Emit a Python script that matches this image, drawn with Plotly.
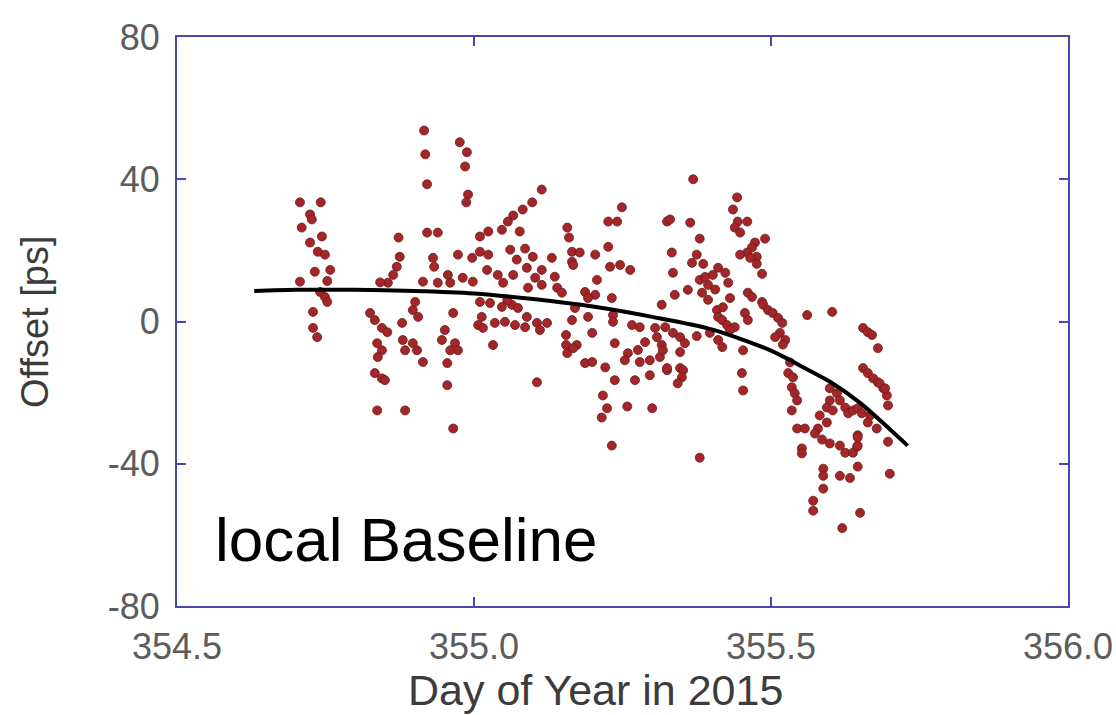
import plotly.graph_objects as go

# ---- data ----
day = [
    # cluster ~354.70-354.76
    354.707, 354.742, 354.724, 354.727, 354.710, 354.744, 354.724, 354.737, 354.749, 354.732,
    354.758, 354.753, 354.707, 354.741, 354.749, 354.753, 354.729, 354.729, 354.736,
    # cluster ~354.82-355.01
    354.825, 354.833, 354.845, 354.854, 354.837, 354.845, 354.838, 354.833, 354.845, 354.837,
    354.884, 354.879, 354.880, 354.884, 354.897, 354.904, 354.914, 354.873, 354.875, 354.870,
    354.864, 354.855, 354.901, 354.897, 354.906, 354.914, 354.939, 354.956, 354.960, 354.981,
    354.998, 354.916, 354.918, 354.921, 354.976, 354.988, 354.985, 354.990, 354.987, 354.921,
    354.939, 354.931, 354.933, 354.973, 354.997, 354.965, 354.951, 354.946, 354.968, 354.960,
    354.973, 354.955, 354.955, 354.965, 355.007, 354.850, 354.842,
    # 355.00-355.17
    355.114, 355.098, 355.082, 355.066, 355.057, 355.047, 355.077, 355.024, 355.010, 355.061,
    355.086, 355.010, 355.024, 355.072, 355.099, 355.131, 355.022, 355.089, 355.114, 355.040,
    355.066, 355.103, 355.136, 355.049, 355.114, 355.091, 355.140, 355.148, 355.010, 355.027,
    355.047, 355.064, 355.074, 355.013, 355.035, 355.052, 355.069, 355.089, 355.106, 355.123,
    355.032, 355.106, 355.157, 355.160, 355.165, 355.165, 355.165, 355.155, 355.155, 355.157,
    355.015, 355.086, 355.111, 355.056,
    # 355.17-355.33
    355.249, 355.226, 355.241, 355.226, 355.204, 355.178, 355.167, 355.229, 355.246, 355.263,
    355.207, 355.187, 355.204, 355.192, 355.232, 355.325, 355.316, 355.170, 355.192, 355.234,
    355.234, 355.266, 355.279, 355.305, 355.199, 355.173, 355.167, 355.237, 355.288, 355.308,
    355.316, 355.259, 355.254, 355.279, 355.296, 355.187, 355.199, 355.221, 355.313, 355.325,
    355.237, 355.271, 355.296, 355.217, 355.224, 355.215, 355.258, 355.300, 355.232, 355.276,
    # 355.32-355.52
    355.369, 355.330, 355.364, 355.443, 355.436, 355.444, 355.460, 355.439, 355.448, 355.490,
    355.380, 355.473, 355.468, 355.460, 355.333, 355.375, 355.448, 355.476, 355.465, 355.476,
    355.367, 355.386, 355.411, 355.423, 355.402, 355.335, 355.485, 355.428, 355.380, 355.394,
    355.360, 355.384, 355.338, 355.394, 355.431, 355.461, 355.468, 355.485, 355.487, 355.495,
    355.503, 355.512, 355.519, 355.409, 355.411, 355.418, 355.456, 355.461, 355.439, 355.426,
    355.431, 355.397, 355.375, 355.411, 355.418, 355.453, 355.322, 355.335, 355.347, 355.355,
    355.347, 355.318, 355.325, 355.347, 355.352, 355.350, 355.343, 355.451, 355.453, 355.380,
    355.389, 355.406, 355.419,
    # 355.50-355.65
    355.515, 355.524, 355.507, 355.561, 355.603, 355.529, 355.537, 355.535, 355.540, 355.544,
    355.535, 355.544, 355.557, 355.552, 355.552, 355.599, 355.611, 355.616, 355.599, 355.594,
    355.604, 355.625, 355.630, 355.638, 355.582, 355.594, 355.579, 355.574, 355.586, 355.599,
    355.616, 355.625, 355.638, 355.645, 355.646, 355.588, 355.588, 355.616, 355.633, 355.588,
    355.571, 355.571, 355.620, 355.650, 355.532, 355.520,
    # 355.65-355.70
    355.655, 355.663, 355.670, 355.680, 355.655, 355.663, 355.672, 355.680, 355.689, 355.695,
    355.697, 355.646, 355.653, 355.667, 355.663, 355.678, 355.646, 355.646, 355.697, 355.646,
    355.700, 355.683, 355.692,
]
offset_ps = [
    33.5, 33.5, 30.1, 28.7, 26.4, 23.9, 22.2, 19.6, 18.8, 14.0,
    14.5, 11.4, 11.2, 8.3, 6.9, 5.5, 2.7, -1.8, -4.4,
    2.4, 0.4, -1.8, -3.0, -6.1, -8.1, -10.0, -14.5, -16.0, -25.0,
    -25.0, -0.4, -5.2, -8.1, -6.1, -8.1, -11.4, 23.6, 18.2, 15.4,
    13.1, 10.9, 5.5, 3.2, 1.3, 11.2, 10.9, 13.1, 10.9, 12.3,
    11.2, 53.7, 47.0, 38.6, 50.4, 47.6, 43.6, 35.7, 33.5, 25.0,
    25.0, 17.9, 15.4, 18.8, 17.9, 2.4, -2.4, -5.2, -6.1, -8.1,
    -8.1, -11.7, -17.9, -30.1, -1.0, -16.5, 11.0,
    37.1, 33.5, 31.5, 29.8, 28.1, 25.8, 25.3, 25.3, 23.9, 20.2,
    20.5, 19.6, 18.8, 17.4, 18.2, 17.9, 14.5, 15.1, 14.5, 13.1,
    13.1, 12.3, 12.6, 10.9, 10.3, 9.5, 9.5, 8.1, 5.5, 5.2,
    4.1, 4.7, 3.8, 1.3, -0.4, -0.1, -1.0, 1.3, -0.4, -0.4,
    -6.6, -17.1, 26.4, 23.6, 19.6, 16.8, 0.4, -3.8, -6.6, -8.9,
    -1.8, -1.6, -2.4, 6.0,
    32.1, 28.1, 28.1, 21.0, 18.8, 19.4, 15.9, 15.4, 15.9, 14.5,
    11.7, 8.3, 7.5, 6.6, 6.6, 28.1, 4.7, 3.8, 1.3, 1.8,
    -0.1, -1.0, -1.6, -1.8, -3.2, -6.6, -7.5, -6.1, -5.8, -4.4,
    -6.6, -8.9, -10.9, -11.4, -10.9, -11.7, -11.4, -12.9, -10.0, -13.7,
    -16.5, -16.5, -15.1, -20.8, -24.4, -27.0, -23.9, -24.4, -34.9, -8.0,
    40.0, 28.7, 27.8, 34.9, 31.5, 28.1, 28.1, 26.4, 25.0, 23.3,
    23.3, 22.2, 20.8, 19.4, 19.4, 18.8, 18.8, 18.2, 17.9, 16.2,
    16.5, 16.2, 15.1, 13.7, 13.1, 13.7, 13.4, 10.9, 11.7, 10.3,
    8.9, 8.1, 7.5, 6.1, 6.6, 8.1, 6.9, 5.5, 4.7, 3.2,
    2.4, 1.0, -0.4, 3.2, 1.3, 0.4, 2.4, 0.4, -1.6, -1.0,
    -2.4, -3.2, -4.1, -5.2, -7.2, -8.1, -1.6, -3.2, -4.4, -6.1,
    -8.6, -8.1, -13.1, -13.1, -13.7, -15.7, -17.4, -14.5, -19.4, -38.3,
    12.5, 9.0, 4.0,
    -3.2, -5.2, -4.4, 1.8, 2.7, -14.5, -15.7, -18.5, -20.2, -22.2,
    -25.0, -30.1, -30.1, -35.7, -37.1, -18.8, -20.2, -22.2, -22.2, -24.2,
    -25.0, -24.2, -25.8, -25.0, -26.4, -28.4, -30.1, -31.5, -33.2, -34.3,
    -34.9, -36.9, -36.9, -35.2, -32.0, -41.4, -43.4, -43.4, -44.0, -47.0,
    -50.4, -53.2, -58.1, -53.8, -11.5, -6.5,
    -1.8, -3.0, -3.8, -7.5, -13.1, -14.5, -16.0, -17.1, -18.8, -20.8,
    -23.6, -24.4, -25.8, -26.4, -28.4, -30.1, -32.6, -34.9, -33.8, -40.8,
    -42.8, -17.4, -18.8,
]

fit_day = [354.63, 354.70, 354.80, 354.90, 355.00, 355.10, 355.20, 355.30,
           355.40, 355.50, 355.55, 355.60, 355.65, 355.70, 355.73]
fit_offset = [8.6, 8.9, 8.9, 8.6, 7.9, 6.3, 4.2, 1.3,
              -2.2, -8.2, -12.5, -17.0, -22.9, -30.3, -34.9]

x_ticks = [354.5, 355.0, 355.5, 356.0]
x_tick_text = ["354.5", "355.0", "355.5", "356.0"]
y_ticks = [-80, -40, 0, 40, 80]
y_tick_text = ["-80", "-40", "0", "40", "80"]

frame_blue = "#4848b0"
font_main = "Liberation Sans, Arial, Helvetica, sans-serif"

W, H = 1116, 715
L, R, T, B = 177, 1068, 37, 606   # plot-area edges in page pixels

fig = go.Figure()
fig.add_trace(go.Scatter(
    x=day, y=offset_ps, mode="markers",
    marker=dict(size=9, color="#a42628", line=dict(width=0.8, color="#6a1c1c")),
    showlegend=False, hoverinfo="x+y",
))
fig.add_trace(go.Scatter(
    x=fit_day, y=fit_offset, mode="lines",
    line=dict(color="black", width=4, shape="spline", smoothing=0.8),
    showlegend=False,
))

fig.add_annotation(
    x=354.561, y=-61.2, xref="x", yref="y", text="local Baseline",
    showarrow=False, xanchor="left", yanchor="middle",
    font=dict(family=font_main, size=62, color="black"),
)
# axis titles placed as paper annotations for exact position
fig.add_annotation(
    x=(595 - L) / (R - L), y=(B - 690) / (B - T), xref="paper", yref="paper",
    text="Day of Year in 2015", showarrow=False, xanchor="center", yanchor="middle",
    font=dict(family=font_main, size=43, color="#3c3c3c"),
)
fig.add_annotation(
    x=(35 - L) / (R - L), y=(B - 322) / (B - T), xref="paper", yref="paper",
    text="Offset [ps]", showarrow=False, xanchor="center", yanchor="middle",
    textangle=-90, font=dict(family=font_main, size=38, color="#3c3c3c"),
)

axis_common = dict(
    showgrid=False, zeroline=False, showline=True, linecolor=frame_blue, linewidth=2,
    mirror="ticks", ticks="inside", ticklen=9, tickwidth=2, tickcolor=frame_blue,
    tickfont=dict(family=font_main, size=36, color="#5c5c5c"),
    automargin=False, ticklabelstandoff=8,
)

fig.update_layout(
    width=W, height=H,
    margin=dict(l=L, r=W - R, t=T, b=H - B),
    paper_bgcolor="white", plot_bgcolor="white",
    xaxis=dict(range=[354.5, 356.0], tickvals=x_ticks, ticktext=x_tick_text, **axis_common),
    yaxis=dict(range=[-80, 80], tickvals=y_ticks, ticktext=y_tick_text, **axis_common),
)

# remove the default page margin so the figure fills the window exactly
fig.write_html("out.html",
               config={"displayModeBar": False},
               post_script="document.body.style.margin='0';document.body.style.overflow='hidden';")
